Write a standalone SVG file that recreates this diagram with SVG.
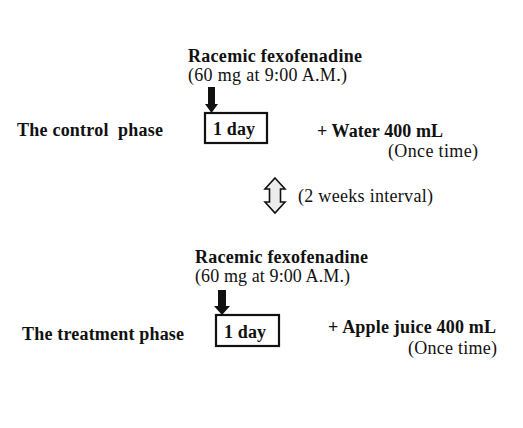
<svg xmlns="http://www.w3.org/2000/svg" width="523" height="428" viewBox="0 0 523 428">
<style>
text{font-family:"Liberation Serif","Times New Roman",serif;font-size:18px;fill:#111;white-space:pre}
.b{font-weight:bold}
.box{fill:#fff;stroke:#111;stroke-width:2.2}
.arr{fill:#111;stroke:none}
.dbl{fill:#ececec;stroke:#111;stroke-width:1.6;stroke-linejoin:miter}
</style>
<rect width="523" height="428" fill="#fff"/>
<g id="control-label"><text class="b" x="17" y="136" textLength="146" lengthAdjust="spacing">The control  phase</text></g>
<g id="control-drug">
<text class="b" x="188" y="61.5" textLength="174" lengthAdjust="spacing">Racemic fexofenadine</text>
<text x="188" y="81" textLength="159" lengthAdjust="spacing">(60 mg at 9:00 A.M.)</text>
</g>
<g id="control-box"><rect class="box" x="205" y="113" width="62" height="30"/><text class="b" x="213" y="135" textLength="42" lengthAdjust="spacing">1 day</text></g>
<g id="control-water">
<text class="b" x="317" y="137" textLength="126" lengthAdjust="spacing">+ Water 400 mL</text>
<text x="388" y="157" textLength="90" lengthAdjust="spacing">(Once time)</text>
</g>
<g id="interval"><text x="298" y="202" textLength="135" lengthAdjust="spacing">(2 weeks interval)</text></g>
<g id="treatment-label"><text class="b" x="22" y="340" textLength="162" lengthAdjust="spacing">The treatment phase</text></g>
<g id="treatment-drug">
<text class="b" x="195" y="263" textLength="173" lengthAdjust="spacing">Racemic fexofenadine</text>
<text x="195" y="282" textLength="155" lengthAdjust="spacing">(60 mg at 9:00 A.M.)</text>
</g>
<g id="treatment-box"><rect class="box" x="216" y="315" width="63" height="31"/><text class="b" x="224" y="338" textLength="42" lengthAdjust="spacing">1 day</text></g>
<g id="treatment-juice">
<text class="b" x="328" y="333" textLength="168" lengthAdjust="spacing">+ Apple juice 400 mL</text>
<text x="408" y="354" textLength="89" lengthAdjust="spacing">(Once time)</text>
</g>
<g id="connectors">
<polygon class="arr" points="208,87 215,87 215,104 218,104 211.5,113 205,104 208,104"/>
<polygon class="arr" points="218,290 226,290 226,306 230,306 222,315 214,306 218,306"/>
<polygon class="dbl" points="275,178 285,189 280.5,189 280.5,202 285,202 275,213 265,202 269.5,202 269.5,189 265,189"/>
</g>
</svg>
